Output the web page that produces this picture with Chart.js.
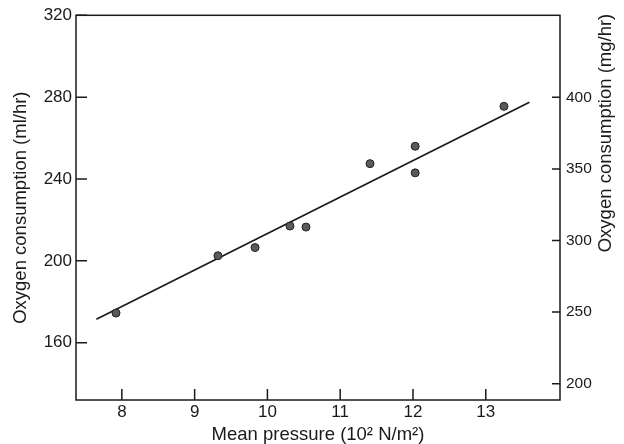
<!DOCTYPE html>
<html>
<head>
<meta charset="utf-8">
<script src="https://cdn.jsdelivr.net/npm/chart.js@4.4.0/dist/chart.umd.min.js"></script>
<style>
  html, body { margin: 0; padding: 0; background: #fff; }
  #wrap { width: 624px; height: 444px; }
</style>
</head>
<body>
<div id="wrap"><canvas id="o2Chart" width="624" height="444"></canvas></div>
<script>
// measured points
const pressure = [7.92, 9.32, 9.83, 10.31, 10.53, 11.41, 12.03, 12.03, 13.25];
const oxygenMl = [174.5, 202.5, 206.5, 217, 216.5, 247.5, 256, 243, 275.5];

// fitted line, end points
const fitPressure = [7.65, 13.6];
const fitOxygen = [171.5, 277.5];

// tick labels
const xTicks = [8, 9, 10, 11, 12, 13];
const yTicksMl = [160, 200, 240, 280, 320];
const yTicksMg = [200, 250, 300, 350, 400];

// 1 ml of oxygen ~ 1.429 mg
const ML_TO_MG = 1.429;
const Y_MIN = 132, Y_MAX = 320;

const ink = '#1a1a1a';
const font = '"Liberation Sans", Arial, sans-serif';

// box frame, inward tick marks and the right-hand title
const frame = {
  id: 'frame',
  afterDraw(chart) {
    const { ctx, chartArea: a, scales } = chart;
    ctx.save();
    ctx.strokeStyle = ink;
    ctx.lineWidth = 1.5;
    ctx.strokeRect(a.left, a.top, a.right - a.left, a.bottom - a.top);

    ctx.beginPath();
    scales.x.ticks.forEach(t => {
      const px = scales.x.getPixelForValue(t.value);
      ctx.moveTo(px, a.bottom);
      ctx.lineTo(px, a.bottom - 11);
    });
    scales.y.ticks.forEach(t => {
      const py = scales.y.getPixelForValue(t.value);
      ctx.moveTo(a.left, py);
      ctx.lineTo(a.left + 11, py);
    });
    scales.y2.ticks.forEach(t => {
      const py = scales.y2.getPixelForValue(t.value);
      ctx.moveTo(a.right, py);
      ctx.lineTo(a.right - 8, py);
    });
    ctx.stroke();

    ctx.translate(606, 133);
    ctx.rotate(-Math.PI / 2);
    ctx.font = '18.5px ' + font;
    ctx.fillStyle = ink;
    ctx.textAlign = 'center';
    ctx.textBaseline = 'middle';
    ctx.fillText('Oxygen consumption (mg/hr)', 0, 0);
    ctx.restore();
  }
};

const ctx = document.getElementById('o2Chart');

new Chart(ctx, {
  type: 'scatter',

  data: {
    datasets: [{
      label: 'Measured',
      data: pressure.map((p, i) => ({ x: p, y: oxygenMl[i] })),
      yAxisID: 'y',
      pointRadius: 4,
      pointBackgroundColor: '#5a5a5a',
      pointBorderColor: '#222',
      pointBorderWidth: 1
    }, {
      label: 'Fit',
      data: fitPressure.map((p, i) => ({ x: p, y: fitOxygen[i] })),
      yAxisID: 'y',
      showLine: true,
      borderColor: ink,
      borderWidth: 1.7,
      pointRadius: 0
    }]
  },

  options: {
    responsive: false,
    animation: false,
    layout: { padding: { top: 14, left: 0, right: 0, bottom: 0 } },

    plugins: {
      legend: { display: false },
      tooltip: { enabled: false }
    },

    scales: {
      x: {
        type: 'linear',
        min: 7.37,
        max: 14.02,
        afterBuildTicks: s => { s.ticks = xTicks.map(v => ({ value: v })); },
        afterFit: s => { s.height = 44; },
        grid: { display: false, drawTicks: false },
        border: { display: false },
        ticks: { color: ink, padding: 2, font: { size: 17, family: font } },
        title: {
          display: true,
          text: 'Mean pressure (10² N/m²)',
          color: ink,
          font: { size: 18.5, family: font, lineHeight: 1 },
          padding: { top: 0, bottom: 0 }
        }
      },

      y: {
        position: 'left',
        min: Y_MIN,
        max: Y_MAX,
        afterBuildTicks: s => { s.ticks = yTicksMl.map(v => ({ value: v })); },
        afterFit: s => { s.width = 76; },
        grid: { display: false, drawTicks: false },
        border: { display: false },
        ticks: { color: ink, padding: 4, font: { size: 17, family: font } },
        title: {
          display: true,
          text: 'Oxygen consumption (ml/hr)',
          color: ink,
          font: { size: 18.5, family: font, lineHeight: 1 },
          padding: { top: 12, bottom: 0 }
        }
      },

      y2: {
        position: 'right',
        min: Y_MIN * ML_TO_MG,
        max: Y_MAX * ML_TO_MG,
        afterBuildTicks: s => { s.ticks = yTicksMg.map(v => ({ value: v })); },
        afterFit: s => { s.width = 64; },
        grid: { display: false, drawTicks: false },
        border: { display: false },
        ticks: { color: ink, padding: 6, font: { size: 15.5, family: font } }
      }
    }
  },

  plugins: [frame]
});
</script>
</body>
</html>
